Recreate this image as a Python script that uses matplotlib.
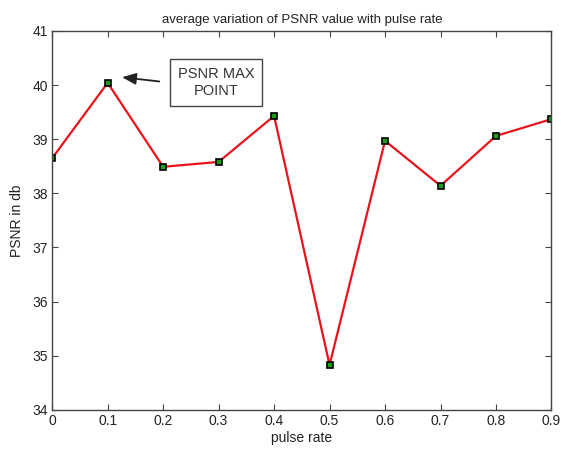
import matplotlib
matplotlib.use('Agg')
import matplotlib.pyplot as plt

# ---------------------------
# Data
# ---------------------------
pulse_rate = [0.0, 0.1, 0.2, 0.3, 0.4, 0.5, 0.6, 0.7, 0.8, 0.9]
psnr = [38.65, 40.04, 38.49, 38.58, 39.43, 34.83, 38.97, 38.14, 39.06, 39.37]
x_ticks = [0, 0.1, 0.2, 0.3, 0.4, 0.5, 0.6, 0.7, 0.8, 0.9]
x_tick_labels = ['0', '0.1', '0.2', '0.3', '0.4', '0.5', '0.6', '0.7', '0.8', '0.9']
y_ticks = [34, 35, 36, 37, 38, 39, 40, 41]

plt.rcParams['font.family'] = ['Liberation Sans', 'DejaVu Sans']

fig = plt.figure(figsize=(5.61, 4.54), dpi=100)
ax = fig.add_axes([0.093, 0.097, 0.890, 0.835])

ax.plot(pulse_rate, psnr, color='#e8141a', linewidth=1.6,
        marker='s', markersize=4.2, markerfacecolor='#1a9e1a',
        markeredgecolor='black', markeredgewidth=1.2)

ax.set_xlim(0, 0.9)
ax.set_ylim(34, 41)
ax.set_xticks(x_ticks)
ax.set_xticklabels(x_tick_labels)
ax.set_yticks(y_ticks)
ax.tick_params(direction='in', top=True, right=True, length=4,
               labelsize=10, color='#444444', labelcolor='#222222', pad=3)
for s in ax.spines.values():
    s.set_color('#444444')
    s.set_linewidth(1.0)

ax.set_title('average variation of PSNR value with pulse rate', fontsize=9.5, color='#222222', pad=6)
ax.set_xlabel('pulse rate', fontsize=10, color='#222222', labelpad=2)
ax.set_ylabel('PSNR in db', fontsize=10, color='#222222', labelpad=6)

# annotation box and arrow
ax.text(0.2955, 40.04, 'PSNR MAX\nPOINT', ha='center', va='center', fontsize=10.5,
        color='#333333', linespacing=1.25,
        bbox=dict(boxstyle='square,pad=0.55', facecolor='white', edgecolor='#444444', linewidth=1.0))
ax.annotate('', xy=(0.121, 40.15), xytext=(0.198, 40.06),
            arrowprops=dict(arrowstyle='-|>,head_length=0.6,head_width=0.25',
                            color='#222222', linewidth=1.3, mutation_scale=14))

fig.savefig('out.png', dpi=100)
